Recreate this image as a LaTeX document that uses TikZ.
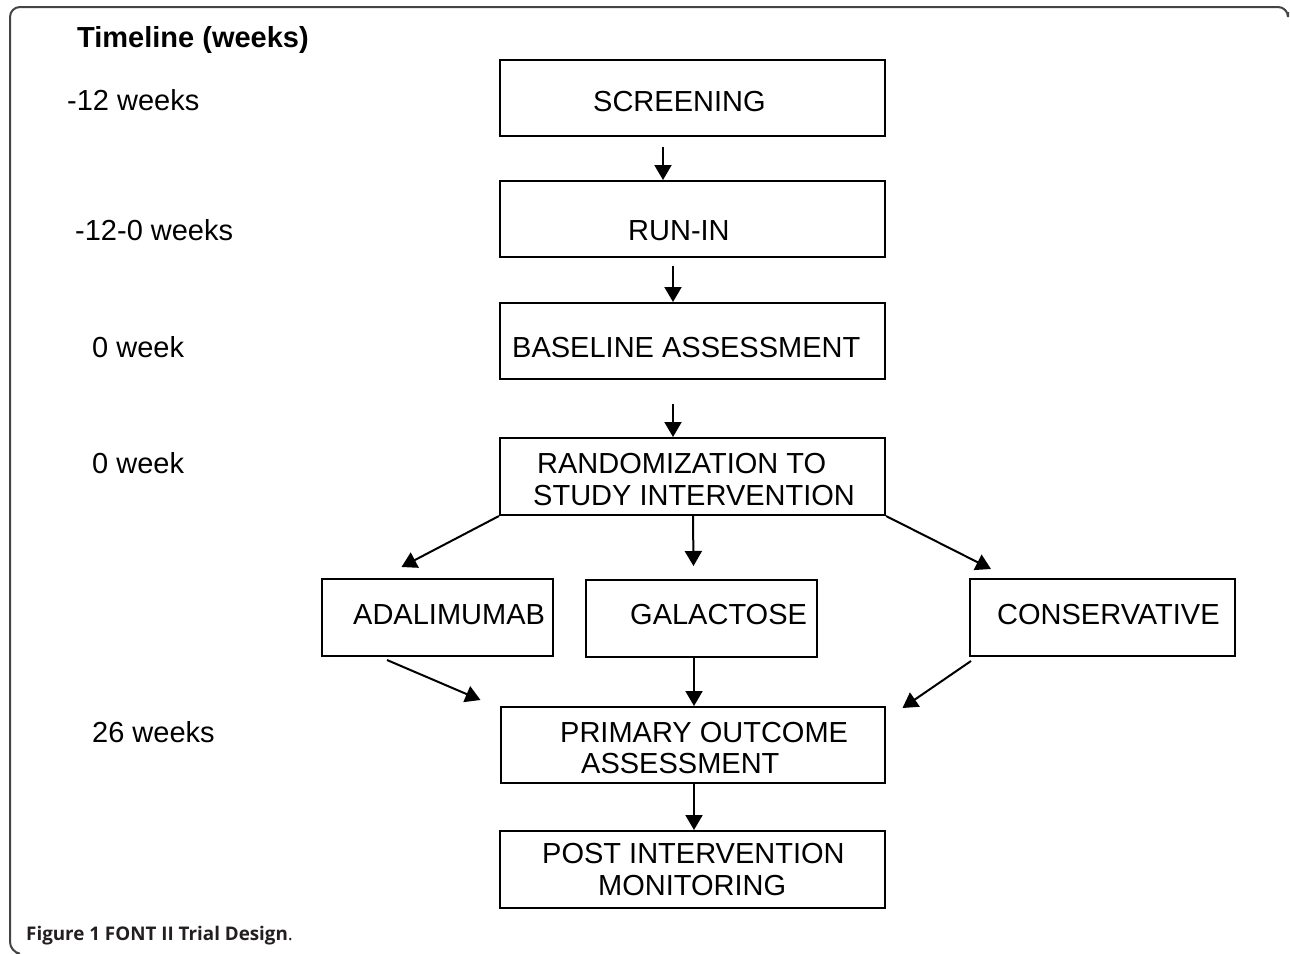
\documentclass[tikz,border=0pt]{standalone}
\usepackage{fontspec}
\setmainfont{Liberation Sans}
\newfontfamily\capfont{Open Sans}
\usetikzlibrary{arrows.meta,calc}
\definecolor{framegray}{HTML}{444444}
\definecolor{captxt}{HTML}{231F20}
\begin{document}
\begin{tikzpicture}[x=1pt,y=-1pt,
  box/.style={draw,line width=2pt,rectangle,inner sep=0pt},
  txt/.style={anchor=base west,inner sep=0pt,font=\fontsize{29}{32}\selectfont},
  arr/.style={line width=2pt,-{Triangle[length=15pt,width=17pt]}},
  frame/.style={draw=framegray,line width=2pt,rounded corners=10pt}]
\fill[white] (0,0) rectangle (1290,953);
\useasboundingbox (0,0) rectangle (1290,953);
% frame
\draw[frame] (1288,12) -- (1288,7) -- (10,7) -- (10,952) -- (16,953);
% timeline labels
\node[txt,font=\fontsize{29}{32}\selectfont\bfseries] (tl) at (77,47) {Timeline (weeks)};
\node[txt] (t1) at (67,110) {-12 weeks};
\node[txt] (t2) at (75,240) {-12-0 weeks};
\node[txt] (t3) at (92,357) {0 week};
\node[txt] (t4) at (92,473) {0 week};
\node[txt] (t5) at (92,742) {26 weeks};
% boxes
\node[box,minimum width=385pt,minimum height=76pt] (scr) at (692.5,98) {};
\node[box,minimum width=385pt,minimum height=76pt] (run) at (692.5,219) {};
\node[box,minimum width=385pt,minimum height=76pt] (base) at (692.5,341) {};
\node[box,minimum width=385pt,minimum height=77pt] (rand) at (692.5,476.5) {};
\node[box,minimum width=231pt,minimum height=77pt] (adal) at (437.5,617.5) {};
\node[box,minimum width=231pt,minimum height=77pt] (gal) at (701,618.5) {};
\node[box,minimum width=265pt,minimum height=77pt] (cons) at (1102.5,617.5) {};
\node[box,minimum width=384pt,minimum height=76pt] (prim) at (692.5,745) {};
\node[box,minimum width=385pt,minimum height=77pt] (post) at (692.5,869.5) {};
% box texts
\node[txt] (scrT) at (593,111) {SCREENING};
\node[txt] (runT) at (628,240) {RUN-IN};
\node[txt] (baseT) at (512,357) {BASELINE ASSESSMENT};
\node[txt] (randT1) at (537,473) {RANDOMIZATION TO};
\node[txt] (randT2) at (533,505) {STUDY INTERVENTION};
\node[txt] (adalT) at (353,624) {ADALIMUMAB};
\node[txt] (galT) at (630,624) {GALACTOSE};
\node[txt] (consT) at (997,624) {CONSERVATIVE};
\node[txt] (primT1) at (560,742) {PRIMARY OUTCOME};
\node[txt] (primT2) at (581,773) {ASSESSMENT};
\node[txt] (postT1) at (542,863) {POST INTERVENTION};
\node[txt] (postT2) at (598,895) {MONITORING};
% arrows
\draw[arr] ($(scr.south)+(-29.5,10)$) -- ($(run.north)+(-29.5,0)$);
\draw[arr] ($(run.south)+(-19.5,8)$) -- ($(base.north)+(-19.5,0)$);
\draw[arr] ($(base.south)+(-19.5,24)$) -- ($(rand.north)+(-19.5,0)$);
\draw[arr] (rand.south west) -- ($(adal.north)+(-36,-11)$);
\draw[arr] ($(rand.south)+(0.5,0)$) -- ($(gal.north)+(-7.5,-13)$);
\draw[arr] (rand.south east) -- ($(cons.north west)+(22,-9)$);
\draw[arr] ($(adal.south)+(-50.5,3)$) -- ($(prim.north west)+(-19,-6)$);
\draw[arr] ($(gal.south)+(-7,0)$) -- ($(prim.north)+(1.5,0)$);
\draw[arr] ($(cons.south west)+(2,4)$) -- ($(prim.north east)+(17,2)$);
\draw[arr] ($(prim.south)+(1.5,0)$) -- ($(post.north)+(1.5,0)$);
% caption
\node[anchor=base west,inner sep=0pt,text=captxt,font=\capfont\fontsize{18.8}{21}\selectfont] (cap) at (26,940) {\textbf{Figure 1 FONT II Trial Design}.};
\end{tikzpicture}
\end{document}
